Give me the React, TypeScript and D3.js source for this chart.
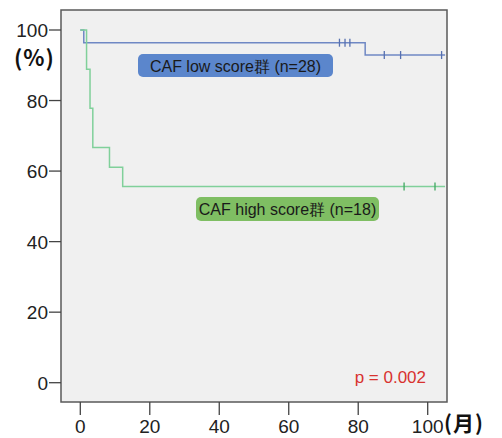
import React from 'react';
import * as d3 from 'd3';

// Kaplan-Meier steps (months, % surviving)
const lowTimes = [0, 1, 82, 105];
const lowSurv = [100, 96.4, 92.9, 92.9];
const lowCensor = [74.6, 76.2, 77.6, 87.5, 92.2, 104];

const highTimes = [0, 1.8, 2.8, 3.6, 8.4, 12.2, 105];
const highSurv = [100, 88.9, 77.8, 66.7, 61.1, 55.6, 55.6];
const highCensor = [93.2, 102.1];

const xTicks = [0, 20, 40, 60, 80, 100];
const yTicks = [0, 20, 40, 60, 80, 100];

const App = () => {
  const width = 502;
  const height = 438;
  const frame = { left: 61, right: 447, top: 10, bottom: 402 };

  const x = d3.scaleLinear().domain([0, 100]).range([80.3, 427.7]);
  const y = d3.scaleLinear().domain([0, 100]).range([382.7, 30]);

  const line = d3
    .line<[number, number]>()
    .x(d => x(d[0]))
    .y(d => y(d[1]))
    .curve(d3.curveStepAfter);

  const lowPts = lowTimes.map((t, i) => [t, lowSurv[i]] as [number, number]);
  const highPts = highTimes.map((t, i) => [t, highSurv[i]] as [number, number]);

  const survAt = (times: number[], surv: number[], t: number) => {
    let s = surv[0];
    times.forEach((tt, i) => {
      if (tt <= t) s = surv[i];
    });
    return s;
  };

  const font = 'Arial, "Liberation Sans", sans-serif';
  const cjk = '"Noto Sans CJK SC", sans-serif';
  const blue = '#6f88c4';
  const green = '#80d09a';

  return (
    <svg width={width} height={height} style={{ position: 'absolute', left: 0, top: 0 }}>
      <rect x={0} y={0} width={width} height={height} fill="#ffffff" />
      <rect
        x={frame.left}
        y={frame.top}
        width={frame.right - frame.left}
        height={frame.bottom - frame.top}
        fill="#f0f0f0"
        stroke="#5a5a5a"
        strokeWidth={1.5}
      />
      {/* y axis */}
      {yTicks.map(t => (
        <g key={'y' + t}>
          <line x1={49} x2={frame.left} y1={y(t)} y2={y(t)} stroke="#444" strokeWidth={1.3} />
          <text x={48} y={y(t) + 7} textAnchor="end" fontSize={19} fontFamily={font} fill="#222">
            {t}
          </text>
        </g>
      ))}
      {/* x axis */}
      {xTicks.map(t => (
        <g key={'x' + t}>
          <line x1={x(t)} x2={x(t)} y1={frame.bottom} y2={415} stroke="#444" strokeWidth={1.3} />
          <text x={x(t)} y={433} textAnchor="middle" fontSize={19} fontFamily={font} fill="#222">
            {t}
          </text>
        </g>
      ))}
      <text x={14} y={66} fontSize={22} fontWeight="bold" fontFamily={cjk} fill="#111" letterSpacing={1}>
        (%)
      </text>
      <text x={444} y={431} fontSize={21} fontWeight="bold" fontFamily={cjk} fill="#111" letterSpacing={1}>
        (月)
      </text>

      {/* curves */}
      <path d={line(lowPts) || ''} fill="none" stroke={blue} strokeWidth={1.5} />
      <path d={line(highPts) || ''} fill="none" stroke={green} strokeWidth={1.5} />
      {lowCensor.map(t => (
        <line
          key={'lc' + t}
          x1={x(t)}
          x2={x(t)}
          y1={y(survAt(lowTimes, lowSurv, t)) - 4}
          y2={y(survAt(lowTimes, lowSurv, t)) + 4}
          stroke="#5670b0"
          strokeWidth={1.3}
        />
      ))}
      {highCensor.map(t => (
        <line
          key={'hc' + t}
          x1={x(t)}
          x2={x(t)}
          y1={y(survAt(highTimes, highSurv, t)) - 4}
          y2={y(survAt(highTimes, highSurv, t)) + 4}
          stroke="#3fa860"
          strokeWidth={1.3}
        />
      ))}

      {/* legend boxes */}
      <rect x={138} y={54} width={195} height={23} rx={5} fill="#5b86cc" />
      <text x={235.5} y={71.5} textAnchor="middle" fontSize={16} fontFamily={font} fill="#1a1a1a">
        CAF low score群 (n=28)
      </text>
      <rect x={196} y={197} width={183} height={24} rx={5} fill="#7fbe63" />
      <text x={287.5} y={215} textAnchor="middle" fontSize={16} fontFamily={font} fill="#1a1a1a">
        CAF high score群 (n=18)
      </text>

      <text x={426} y={383} textAnchor="end" fontSize={17} fontFamily={font} fill="#d8322f">
        p = 0.002
      </text>
    </svg>
  );
};

export default App;
